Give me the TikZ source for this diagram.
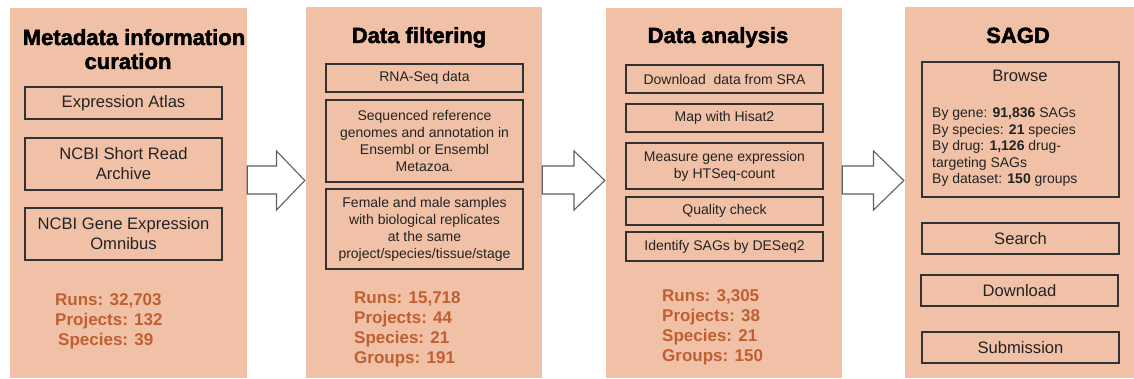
\documentclass[tikz,border=0pt]{standalone}
\usepackage{fontspec}
\setmainfont{Liberation Sans}
\newfontfamily\heavyfont{Liberation Sans Bold}[FakeBold=2]
\usetikzlibrary{calc}
\definecolor{panelc}{RGB}{241,193,167}
\definecolor{statc}{RGB}{190,96,50}
\definecolor{boxc}{RGB}{50,50,50}
\definecolor{arrc}{RGB}{95,95,95}
\definecolor{txtc}{RGB}{35,35,35}
\newcommand{\flowarrow}[3]{%
  \coordinate (#3s) at (#1.east);
  \coordinate (#3e) at ($(#2.west)+(-1,0)$);
  \coordinate (#3m) at ($(#1.east)!0.5!(#2.west)$);
  \draw[barrow] (#3s |- 0,166) -- (#3m |- 0,166) -- (#3m |- 0,151) -- (#3e |- 0,180.5)
    -- (#3m |- 0,210) -- (#3m |- 0,194) -- (#3s |- 0,194) -- cycle;}
\begin{document}
\begin{tikzpicture}[x=1pt,y=-1pt,
  panel/.style={fill=panelc, draw=none, inner sep=0pt},
  ibox/.style={draw=boxc, line width=1.3pt, inner sep=1pt, align=center, text=txtc,
    font=\fontsize{14}{17}\selectfont, minimum width=197pt},
  bigbox/.style={ibox, font=\fontsize{16.6}{20}\selectfont},
  title/.style={font=\fontsize{22}{26}\selectfont\heavyfont, anchor=base, text=black, inner sep=0pt},
  stat/.style={font=\fontsize{17}{20}\selectfont\bfseries, text=statc, anchor=base west, inner sep=0pt},
  bline/.style={font=\fontsize{14}{17}\selectfont, text=txtc, anchor=base west, inner sep=0pt},
  barrow/.style={draw=arrc, fill=white, line width=1.1pt, line join=miter}
]
\path[use as bounding box] (0,0) rectangle (1134,379);
% panels
\node[panel, minimum width=237pt, minimum height=370pt] (p1) at (128.5,193) {};
\node[panel, minimum width=236pt, minimum height=371pt] (p2) at (424,192.5) {};
\node[panel, minimum width=236pt, minimum height=370pt] (p3) at (724,193) {};
\node[panel, minimum width=229pt, minimum height=371pt] (p4) at (1019.5,192.5) {};
% titles
\node[title] (t1a) at (134,45) {Metadata information};
\node[title] (t1b) at (128,69) {curation};
\node[title] (t2) at (419,43) {Data filtering};
\node[title] (t3) at (718,43) {Data analysis};
\node[title] (t4) at (1018,43) {SAGD};
% panel 1
\node[bigbox, minimum height=32pt] (b11) at (123.5,103) {Expression Atlas};
\node[bigbox, minimum height=52pt] (b12) at (123.5,164) {NCBI Short Read\\Archive};
\node[bigbox, minimum height=52pt] (b13) at (123.5,234) {NCBI Gene Expression\\Omnibus};
\node[stat] (s11) at (55,305) {Runs: 32,703};
\node[stat] (s12) at (55,325) {Projects: 132};
\node[stat] (s13) at (58,345) {Species: 39};
% panel 2
\node[ibox, minimum height=28pt] (b21) at (424.5,78) {RNA-Seq data};
\node[ibox, minimum height=82pt] (b22) at (424.5,141) {Sequenced reference\\genomes and annotation in\\Ensembl or Ensembl\\Metazoa.};
\node[ibox, minimum height=80pt] (b23) at (424.5,229) {Female and male samples\\with biological replicates\\at the same\\project/species/tissue/stage};
\node[stat] (s21) at (354,303) {Runs: 15,718};
\node[stat] (s22) at (354,323) {Projects: 44};
\node[stat] (s23) at (354,343) {Species: 21};
\node[stat] (s24) at (354,363) {Groups: 191};
% panel 3
\node[ibox, minimum height=28pt] (b31) at (724.5,79) {Download\ \ data from SRA};
\node[ibox, minimum height=28pt] (b32) at (724.5,118) {Map with Hisat2};
\node[ibox, minimum height=46pt] (b33) at (724.5,166) {Measure gene expression\\by HTSeq-count};
\node[ibox, minimum height=28pt] (b34) at (724.5,211) {Quality check};
\node[ibox, minimum height=29pt] (b35) at (724.5,246.5) {Identify SAGs by DESeq2};
\node[stat] (s31) at (662,301) {Runs: 3,305};
\node[stat] (s32) at (662,321) {Projects: 38};
\node[stat] (s33) at (662,341) {Species: 21};
\node[stat] (s34) at (662,361) {Groups: 150};
% panel 4
\node[ibox, minimum height=135pt] (b41) at (1020.5,129.5) {};
\node[font=\fontsize{16.6}{20}\selectfont, text=txtc, anchor=base, inner sep=0pt] (br) at (1020,82) {Browse};
\node[bline] (l1) at (932,118) {By gene: \textbf{91,836} SAGs};
\node[bline] (l2) at (932,134.5) {By species: \textbf{21} species};
\node[bline] (l3) at (932,151) {By drug: \textbf{1,126} drug-};
\node[bline] (l4) at (932,167.5) {targeting SAGs};
\node[bline] (l5) at (932,184) {By dataset: \textbf{150} groups};
\node[bigbox, minimum height=31pt] (b42) at (1020.5,238.5) {Search};
\node[bigbox, minimum height=31pt] (b43) at (1019.5,290.5) {Download};
\node[bigbox, minimum height=31pt] (b44) at (1020.5,347.5) {Submission};
% arrows
\flowarrow{p1}{p2}{a1}
\flowarrow{p2}{p3}{a2}
\flowarrow{p3}{p4}{a3}
\end{tikzpicture}
\end{document}
